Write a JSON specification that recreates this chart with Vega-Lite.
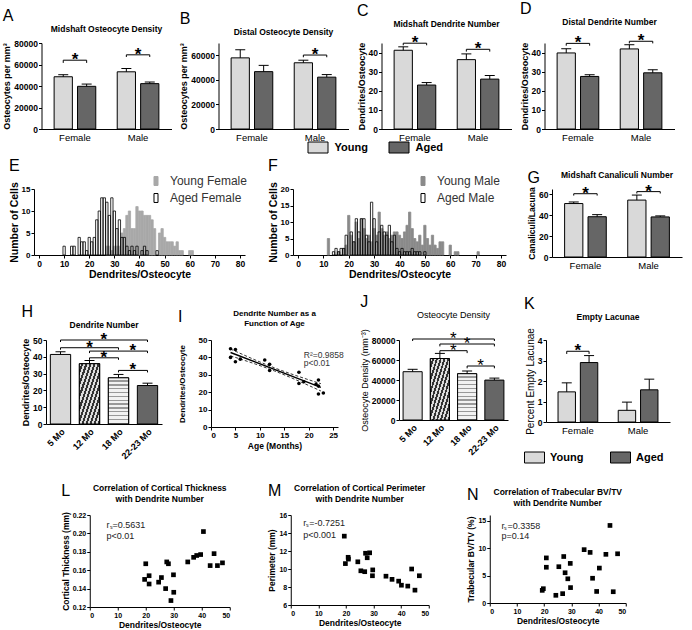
{
"$schema": "https://vega.github.io/schema/vega-lite/v6.json",
"padding": {"left": 2, "right": 2, "top": 0, "bottom": 0},
"background": "white",
"center": true,
"spacing": 3,
"resolve": {"scale": {"fill": "independent", "stroke": "independent", "xOffset": "independent"}},
"config": {
  "font": "Liberation Sans",
  "view": {"stroke": null},
  "axis": {"grid": false, "domainColor": "#000", "tickColor": "#000", "labelColor": "#000", "titleColor": "#000", "labelFontSize": 8.5, "labelFontWeight": "bold", "titleFontSize": 9, "titleFontWeight": "bold", "tickSize": 3, "labelPadding": 1, "titlePadding": 2, "labelFont": "Liberation Sans", "titleFont": "Liberation Sans", "labelOverlap": false},
  "title": {"fontSize": 8.5, "fontWeight": "bold", "color": "#000", "font": "Liberation Sans", "offset": 6},
  "legend": {"labelFont": "Liberation Sans"}
},
"vconcat": [
{
  "hconcat": [
  {
    "title": {"text": "A", "anchor": "start", "frame": "bounds", "fontSize": 16, "fontWeight": "normal", "offset": 1},
    "resolve": {"scale": {"xOffset": "independent"}},
    "vconcat": [{
      "width": 130, "height": 86,
      "title": {"text": "Midshaft Osteocyte Density"},
      "data": {"values": [
        {"sex": "Female", "age": "Young", "mean": 48600, "err": 50500},
        {"sex": "Female", "age": "Aged", "mean": 39700, "err": 41800},
        {"sex": "Male", "age": "Young", "mean": 53200, "err": 56300},
        {"sex": "Male", "age": "Aged", "mean": 42200, "err": 43700}]},
      "encoding": {"x": {"field": "sex", "type": "nominal", "scale": {"domain": ["Female", "Male"], "paddingInner": 0.34, "paddingOuter": 0.2}, "axis": {"title": null, "labelAngle": 0, "labelFontWeight": "normal", "labelFontSize": 9.5, "ticks": false, "labelPadding": 3}}},
      "layer": [
        {"mark": {"type": "bar", "stroke": "#000", "strokeWidth": 1},
         "encoding": {
           "xOffset": {"field": "age", "type": "nominal", "scale": {"domain": ["Young", "Aged"], "paddingInner": 0.22}},
           "y": {"field": "mean", "type": "quantitative", "title": "Osteocytes per mm³", "scale": {"domain": [0, 80000]}, "axis": {"values": [0, 20000, 40000, 60000, 80000], "tickCount": 20, "format": "d"}},
           "fill": {"field": "age", "type": "nominal", "scale": {"domain": ["Young", "Aged"], "range": ["#d9d9d9", "#666666"]}, "legend": {"orient": "none", "legendX": 266, "legendY": 94, "direction": "horizontal", "title": null, "symbolType": "M-1,-0.55L1,-0.55L1,0.55L-1,0.55Z", "symbolSize": 400, "symbolStrokeColor": "#000", "symbolStrokeWidth": 1, "labelFontSize": 11, "labelFontWeight": "bold", "columnPadding": 18, "labelOffset": 6}}}},
        {"mark": {"type": "rule", "color": "#000", "strokeWidth": 1},
         "encoding": {"xOffset": {"field": "age", "type": "nominal", "scale": {"domain": ["Young", "Aged"], "paddingInner": 0.22}}, "y": {"field": "mean", "type": "quantitative", "title": "Osteocytes per mm³"}, "y2": {"field": "err"}}},
        {"mark": {"type": "tick", "color": "#000", "thickness": 1, "size": 10, "opacity": 1},
         "encoding": {"xOffset": {"field": "age", "type": "nominal", "scale": {"domain": ["Young", "Aged"], "paddingInner": 0.22}}, "y": {"field": "err", "type": "quantitative", "title": "Osteocytes per mm³"}}},
        {"data": {"values": [
           {"sex": "Female", "age": "Young", "y": 61500, "seq": 1}, {"sex": "Female", "age": "Young", "y": 64000, "seq": 2},
           {"sex": "Female", "age": "Aged", "y": 64000, "seq": 3}, {"sex": "Female", "age": "Aged", "y": 61500, "seq": 4},
           {"sex": "Male", "age": "Young", "y": 67000, "seq": 1}, {"sex": "Male", "age": "Young", "y": 69000, "seq": 2},
           {"sex": "Male", "age": "Aged", "y": 69000, "seq": 3}, {"sex": "Male", "age": "Aged", "y": 67000, "seq": 4}]},
         "mark": {"type": "line", "color": "#000", "strokeWidth": 1},
         "encoding": {"xOffset": {"field": "age", "type": "nominal", "scale": {"domain": ["Young", "Aged"], "paddingInner": 0.22}}, "y": {"field": "y", "type": "quantitative", "title": "Osteocytes per mm³"}, "order": {"field": "seq", "type": "quantitative"}, "detail": {"field": "sex"}}},
        {"data": {"values": [{"sex": "Female", "y": 64000}, {"sex": "Male", "y": 69000}]},
         "mark": {"type": "text", "text": "*", "fontSize": 17, "fontWeight": "bold", "baseline": "alphabetic", "dy": 5, "color": "#000"},
         "encoding": {"y": {"field": "y", "type": "quantitative", "title": "Osteocytes per mm³"}}}
      ]
    }]
  },
  {
    "title": {"text": "B", "anchor": "start", "frame": "bounds", "fontSize": 16, "fontWeight": "normal", "offset": 1},
    "resolve": {"scale": {"xOffset": "independent"}},
    "vconcat": [{
      "width": 130, "height": 86,
      "title": {"text": "Distal Osteocyte Density"},
      "data": {"values": [
        {"sex": "Female", "age": "Young", "mean": 57900, "err": 64500},
        {"sex": "Female", "age": "Aged", "mean": 46700, "err": 51800},
        {"sex": "Male", "age": "Young", "mean": 53900, "err": 56000},
        {"sex": "Male", "age": "Aged", "mean": 42200, "err": 44300}]},
      "encoding": {"x": {"field": "sex", "type": "nominal", "scale": {"domain": ["Female", "Male"], "paddingInner": 0.34, "paddingOuter": 0.2}, "axis": {"title": null, "labelAngle": 0, "labelFontWeight": "normal", "labelFontSize": 9.5, "ticks": false, "labelPadding": 3}}},
      "layer": [
        {"mark": {"type": "bar", "stroke": "#000", "strokeWidth": 1},
         "encoding": {
           "xOffset": {"field": "age", "type": "nominal", "scale": {"domain": ["Young", "Aged"], "paddingInner": 0.22}},
           "y": {"field": "mean", "type": "quantitative", "title": "Osteocytes per mm³", "scale": {"domain": [0, 70000]}, "axis": {"values": [0, 20000, 40000, 60000], "tickCount": 20, "format": "d"}},
           "fill": {"field": "age", "type": "nominal", "scale": {"domain": ["Young", "Aged"], "range": ["#d9d9d9", "#666666"]}, "legend": {"orient": "none", "legendX": 266, "legendY": 94, "direction": "horizontal", "title": null, "symbolType": "M-1,-0.55L1,-0.55L1,0.55L-1,0.55Z", "symbolSize": 400, "symbolStrokeColor": "#000", "symbolStrokeWidth": 1, "labelFontSize": 11, "labelFontWeight": "bold", "columnPadding": 18, "labelOffset": 6}}}},
        {"mark": {"type": "rule", "color": "#000", "strokeWidth": 1},
         "encoding": {"xOffset": {"field": "age", "type": "nominal", "scale": {"domain": ["Young", "Aged"], "paddingInner": 0.22}}, "y": {"field": "mean", "type": "quantitative", "title": "Osteocytes per mm³"}, "y2": {"field": "err"}}},
        {"mark": {"type": "tick", "color": "#000", "thickness": 1, "size": 10, "opacity": 1},
         "encoding": {"xOffset": {"field": "age", "type": "nominal", "scale": {"domain": ["Young", "Aged"], "paddingInner": 0.22}}, "y": {"field": "err", "type": "quantitative", "title": "Osteocytes per mm³"}}},
        {"data": {"values": [
           {"sex": "Male", "age": "Young", "y": 58400, "seq": 1}, {"sex": "Male", "age": "Young", "y": 60200, "seq": 2},
           {"sex": "Male", "age": "Aged", "y": 60200, "seq": 3}, {"sex": "Male", "age": "Aged", "y": 58400, "seq": 4}]},
         "mark": {"type": "line", "color": "#000", "strokeWidth": 1},
         "encoding": {"xOffset": {"field": "age", "type": "nominal", "scale": {"domain": ["Young", "Aged"], "paddingInner": 0.22}}, "y": {"field": "y", "type": "quantitative", "title": "Osteocytes per mm³"}, "order": {"field": "seq", "type": "quantitative"}, "detail": {"field": "sex"}}},
        {"data": {"values": [{"sex": "Male", "y": 60200}]},
         "mark": {"type": "text", "text": "*", "fontSize": 17, "fontWeight": "bold", "baseline": "alphabetic", "dy": 5, "color": "#000"},
         "encoding": {"y": {"field": "y", "type": "quantitative", "title": "Osteocytes per mm³"}}}
      ]
    }]
  },
  {
    "title": {"text": "C", "anchor": "start", "frame": "bounds", "fontSize": 16, "fontWeight": "normal", "offset": 1},
    "resolve": {"scale": {"xOffset": "independent"}},
    "vconcat": [{
      "width": 130, "height": 86,
      "title": {"text": "Midshaft Dendrite Number"},
      "data": {"values": [
        {"sex": "Female", "age": "Young", "mean": 41.2, "err": 43},
        {"sex": "Female", "age": "Aged", "mean": 23, "err": 24.3},
        {"sex": "Male", "age": "Young", "mean": 36.3, "err": 39.3},
        {"sex": "Male", "age": "Aged", "mean": 26.1, "err": 28}]},
      "encoding": {"x": {"field": "sex", "type": "nominal", "scale": {"domain": ["Female", "Male"], "paddingInner": 0.34, "paddingOuter": 0.2}, "axis": {"title": null, "labelAngle": 0, "labelFontWeight": "normal", "labelFontSize": 9.5, "ticks": false, "labelPadding": 3}}},
      "layer": [
        {"mark": {"type": "bar", "stroke": "#000", "strokeWidth": 1},
         "encoding": {
           "xOffset": {"field": "age", "type": "nominal", "scale": {"domain": ["Young", "Aged"], "paddingInner": 0.22}},
           "y": {"field": "mean", "type": "quantitative", "title": "Dendrites/Osteocyte", "scale": {"domain": [0, 45]}, "axis": {"values": [0, 10, 20, 30, 40], "tickCount": 20, "format": "d"}},
           "fill": {"field": "age", "type": "nominal", "scale": {"domain": ["Young", "Aged"], "range": ["#d9d9d9", "#666666"]}, "legend": {"orient": "none", "legendX": 266, "legendY": 94, "direction": "horizontal", "title": null, "symbolType": "M-1,-0.55L1,-0.55L1,0.55L-1,0.55Z", "symbolSize": 400, "symbolStrokeColor": "#000", "symbolStrokeWidth": 1, "labelFontSize": 11, "labelFontWeight": "bold", "columnPadding": 18, "labelOffset": 6}}}},
        {"mark": {"type": "rule", "color": "#000", "strokeWidth": 1},
         "encoding": {"xOffset": {"field": "age", "type": "nominal", "scale": {"domain": ["Young", "Aged"], "paddingInner": 0.22}}, "y": {"field": "mean", "type": "quantitative", "title": "Dendrites/Osteocyte"}, "y2": {"field": "err"}}},
        {"mark": {"type": "tick", "color": "#000", "thickness": 1, "size": 10, "opacity": 1},
         "encoding": {"xOffset": {"field": "age", "type": "nominal", "scale": {"domain": ["Young", "Aged"], "paddingInner": 0.22}}, "y": {"field": "err", "type": "quantitative", "title": "Dendrites/Osteocyte"}}},
        {"data": {"values": [
           {"sex": "Female", "age": "Young", "y": 43.8, "seq": 1}, {"sex": "Female", "age": "Young", "y": 44.9, "seq": 2},
           {"sex": "Female", "age": "Aged", "y": 44.9, "seq": 3}, {"sex": "Female", "age": "Aged", "y": 43.8, "seq": 4},
           {"sex": "Male", "age": "Young", "y": 40.5, "seq": 1}, {"sex": "Male", "age": "Young", "y": 41.7, "seq": 2},
           {"sex": "Male", "age": "Aged", "y": 41.7, "seq": 3}, {"sex": "Male", "age": "Aged", "y": 40.5, "seq": 4}]},
         "mark": {"type": "line", "color": "#000", "strokeWidth": 1},
         "encoding": {"xOffset": {"field": "age", "type": "nominal", "scale": {"domain": ["Young", "Aged"], "paddingInner": 0.22}}, "y": {"field": "y", "type": "quantitative", "title": "Dendrites/Osteocyte"}, "order": {"field": "seq", "type": "quantitative"}, "detail": {"field": "sex"}}},
        {"data": {"values": [{"sex": "Female", "y": 44.9}, {"sex": "Male", "y": 41.7}]},
         "mark": {"type": "text", "text": "*", "fontSize": 17, "fontWeight": "bold", "baseline": "alphabetic", "dy": 5, "color": "#000"},
         "encoding": {"y": {"field": "y", "type": "quantitative", "title": "Dendrites/Osteocyte"}}}
      ]
    }]
  },
  {
    "title": {"text": "D", "anchor": "start", "frame": "bounds", "fontSize": 16, "fontWeight": "normal", "offset": 1},
    "resolve": {"scale": {"xOffset": "independent"}},
    "vconcat": [{
      "width": 130, "height": 86,
      "title": {"text": "Distal Dendrite Number"},
      "data": {"values": [
        {"sex": "Female", "age": "Young", "mean": 39.8, "err": 42},
        {"sex": "Female", "age": "Aged", "mean": 27.5, "err": 28.4},
        {"sex": "Male", "age": "Young", "mean": 41.9, "err": 44.1},
        {"sex": "Male", "age": "Aged", "mean": 29.4, "err": 31}]},
      "encoding": {"x": {"field": "sex", "type": "nominal", "scale": {"domain": ["Female", "Male"], "paddingInner": 0.34, "paddingOuter": 0.2}, "axis": {"title": null, "labelAngle": 0, "labelFontWeight": "normal", "labelFontSize": 9.5, "ticks": false, "labelPadding": 3}}},
      "layer": [
        {"mark": {"type": "bar", "stroke": "#000", "strokeWidth": 1},
         "encoding": {
           "xOffset": {"field": "age", "type": "nominal", "scale": {"domain": ["Young", "Aged"], "paddingInner": 0.22}},
           "y": {"field": "mean", "type": "quantitative", "title": "Dendrites/Osteocyte", "scale": {"domain": [0, 45]}, "axis": {"values": [0, 10, 20, 30, 40], "tickCount": 20, "format": "d"}},
           "fill": {"field": "age", "type": "nominal", "scale": {"domain": ["Young", "Aged"], "range": ["#d9d9d9", "#666666"]}, "legend": {"orient": "none", "legendX": 266, "legendY": 94, "direction": "horizontal", "title": null, "symbolType": "M-1,-0.55L1,-0.55L1,0.55L-1,0.55Z", "symbolSize": 400, "symbolStrokeColor": "#000", "symbolStrokeWidth": 1, "labelFontSize": 11, "labelFontWeight": "bold", "columnPadding": 18, "labelOffset": 6}}}},
        {"mark": {"type": "rule", "color": "#000", "strokeWidth": 1},
         "encoding": {"xOffset": {"field": "age", "type": "nominal", "scale": {"domain": ["Young", "Aged"], "paddingInner": 0.22}}, "y": {"field": "mean", "type": "quantitative", "title": "Dendrites/Osteocyte"}, "y2": {"field": "err"}}},
        {"mark": {"type": "tick", "color": "#000", "thickness": 1, "size": 10, "opacity": 1},
         "encoding": {"xOffset": {"field": "age", "type": "nominal", "scale": {"domain": ["Young", "Aged"], "paddingInner": 0.22}}, "y": {"field": "err", "type": "quantitative", "title": "Dendrites/Osteocyte"}}},
        {"data": {"values": [
           {"sex": "Female", "age": "Young", "y": 43.6, "seq": 1}, {"sex": "Female", "age": "Young", "y": 44.8, "seq": 2},
           {"sex": "Female", "age": "Aged", "y": 44.8, "seq": 3}, {"sex": "Female", "age": "Aged", "y": 43.6, "seq": 4},
           {"sex": "Male", "age": "Young", "y": 44.8, "seq": 1}, {"sex": "Male", "age": "Young", "y": 45.9, "seq": 2},
           {"sex": "Male", "age": "Aged", "y": 45.9, "seq": 3}, {"sex": "Male", "age": "Aged", "y": 44.8, "seq": 4}]},
         "mark": {"type": "line", "color": "#000", "strokeWidth": 1},
         "encoding": {"xOffset": {"field": "age", "type": "nominal", "scale": {"domain": ["Young", "Aged"], "paddingInner": 0.22}}, "y": {"field": "y", "type": "quantitative", "title": "Dendrites/Osteocyte"}, "order": {"field": "seq", "type": "quantitative"}, "detail": {"field": "sex"}}},
        {"data": {"values": [{"sex": "Female", "y": 44.8}, {"sex": "Male", "y": 45.9}]},
         "mark": {"type": "text", "text": "*", "fontSize": 17, "fontWeight": "bold", "baseline": "alphabetic", "dy": 5, "color": "#000"},
         "encoding": {"y": {"field": "y", "type": "quantitative", "title": "Dendrites/Osteocyte"}}}
      ]
    }]
  }
  ],
  "spacing": 8,
  "resolve": {"scale": {"xOffset": "independent"}}
},
{
  "hconcat": [
  {
    "title": {"text": "E", "anchor": "start", "frame": "bounds", "fontSize": 16, "fontWeight": "normal", "offset": 1},
    "resolve": {"scale": {"fill": "independent", "stroke": "independent", "xOffset": "independent"}},
    "vconcat": [{
      "width": 211, "height": 66,
      "data": {"values": [
        {"grp": "Young Female", "d": 27, "n": 2}, {"grp": "Young Female", "d": 28, "n": 2}, {"grp": "Young Female", "d": 29, "n": 1}, {"grp": "Young Female", "d": 30, "n": 2},
        {"grp": "Young Female", "d": 31, "n": 2}, {"grp": "Young Female", "d": 32, "n": 2}, {"grp": "Young Female", "d": 33, "n": 5}, {"grp": "Young Female", "d": 34, "n": 6},
        {"grp": "Young Female", "d": 35, "n": 9}, {"grp": "Young Female", "d": 36, "n": 10}, {"grp": "Young Female", "d": 37, "n": 6}, {"grp": "Young Female", "d": 38, "n": 6},
        {"grp": "Young Female", "d": 39, "n": 11}, {"grp": "Young Female", "d": 40, "n": 10}, {"grp": "Young Female", "d": 41, "n": 10}, {"grp": "Young Female", "d": 42, "n": 9},
        {"grp": "Young Female", "d": 43, "n": 9}, {"grp": "Young Female", "d": 44, "n": 9}, {"grp": "Young Female", "d": 45, "n": 8}, {"grp": "Young Female", "d": 46, "n": 6},
        {"grp": "Young Female", "d": 48, "n": 5}, {"grp": "Young Female", "d": 49, "n": 6}, {"grp": "Young Female", "d": 50, "n": 4}, {"grp": "Young Female", "d": 51, "n": 3},
        {"grp": "Young Female", "d": 52, "n": 3}, {"grp": "Young Female", "d": 53, "n": 3}, {"grp": "Young Female", "d": 54, "n": 2}, {"grp": "Young Female", "d": 55, "n": 3},
        {"grp": "Young Female", "d": 56, "n": 1}, {"grp": "Young Female", "d": 57, "n": 1}, {"grp": "Young Female", "d": 60, "n": 1}, {"grp": "Young Female", "d": 61, "n": 1},
        {"grp": "Aged Female", "d": 10, "n": 2}, {"grp": "Aged Female", "d": 13, "n": 2}, {"grp": "Aged Female", "d": 14, "n": 2}, {"grp": "Aged Female", "d": 16, "n": 4},
        {"grp": "Aged Female", "d": 17, "n": 3}, {"grp": "Aged Female", "d": 18, "n": 3}, {"grp": "Aged Female", "d": 19, "n": 1}, {"grp": "Aged Female", "d": 20, "n": 4},
        {"grp": "Aged Female", "d": 21, "n": 3}, {"grp": "Aged Female", "d": 22, "n": 4}, {"grp": "Aged Female", "d": 23, "n": 8}, {"grp": "Aged Female", "d": 24, "n": 10},
        {"grp": "Aged Female", "d": 25, "n": 13}, {"grp": "Aged Female", "d": 26, "n": 13}, {"grp": "Aged Female", "d": 27, "n": 12}, {"grp": "Aged Female", "d": 28, "n": 9},
        {"grp": "Aged Female", "d": 29, "n": 13}, {"grp": "Aged Female", "d": 30, "n": 10}, {"grp": "Aged Female", "d": 31, "n": 6}, {"grp": "Aged Female", "d": 32, "n": 8},
        {"grp": "Aged Female", "d": 33, "n": 4}, {"grp": "Aged Female", "d": 34, "n": 4}, {"grp": "Aged Female", "d": 35, "n": 2}, {"grp": "Aged Female", "d": 36, "n": 1},
        {"grp": "Aged Female", "d": 37, "n": 2}, {"grp": "Aged Female", "d": 38, "n": 1}, {"grp": "Aged Female", "d": 39, "n": 2}, {"grp": "Aged Female", "d": 41, "n": 1},
        {"grp": "Aged Female", "d": 42, "n": 2}, {"grp": "Aged Female", "d": 43, "n": 1}, {"grp": "Aged Female", "d": 47, "n": 1}]},
      "mark": {"type": "bar", "width": 2.3, "strokeWidth": 0.8},
      "encoding": {
        "x": {"field": "d", "type": "quantitative", "scale": {"domain": [0, 80]}, "axis": {"values": [0, 10, 20, 30, 40, 50, 60, 70, 80], "tickCount": 20, "format": "d", "title": "Dendrites/Osteocyte", "titleFontSize": 10.5, "labelFontSize": 8.5}},
        "y": {"field": "n", "type": "quantitative", "stack": null, "scale": {"domain": [0, 15]}, "axis": {"values": [0, 5, 10, 15], "tickCount": 20, "format": "d", "title": "Number of Cells", "titleFontSize": 10.5, "labelFontSize": 8}},
        "fill": {"field": "grp", "type": "nominal", "scale": {"domain": ["Young Female", "Aged Female"], "range": ["#a8a8a8", "rgba(255,255,255,0.15)"]}, "legend": {"orient": "none", "legendX": 116, "legendY": -14, "title": null, "symbolType": "M-0.45,-1L0.45,-1L0.45,1L-0.45,1Z", "symbolSize": 80, "symbolStrokeWidth": 1, "labelFontSize": 12, "labelFontWeight": "normal", "labelColor": "#333", "rowPadding": 3, "labelOffset": 8}},
        "stroke": {"field": "grp", "type": "nominal", "scale": {"domain": ["Young Female", "Aged Female"], "range": ["#a8a8a8", "#000000"]}, "legend": {"orient": "none", "legendX": 116, "legendY": -14, "title": null, "symbolType": "M-0.45,-1L0.45,-1L0.45,1L-0.45,1Z", "symbolSize": 80, "symbolStrokeWidth": 1, "labelFontSize": 12, "labelFontWeight": "normal", "labelColor": "#333", "rowPadding": 3, "labelOffset": 8}}
      }
    }]
  },
  {
    "title": {"text": "F", "anchor": "start", "frame": "bounds", "fontSize": 16, "fontWeight": "normal", "offset": 1},
    "resolve": {"scale": {"fill": "independent", "stroke": "independent", "xOffset": "independent"}},
    "vconcat": [{
      "width": 213, "height": 66,
      "data": {"values": [
        {"grp": "Young Male", "d": 12, "n": 5}, {"grp": "Young Male", "d": 16, "n": 1}, {"grp": "Young Male", "d": 18, "n": 2}, {"grp": "Young Male", "d": 19, "n": 3},
        {"grp": "Young Male", "d": 20, "n": 12}, {"grp": "Young Male", "d": 21, "n": 6}, {"grp": "Young Male", "d": 22, "n": 4}, {"grp": "Young Male", "d": 23, "n": 10},
        {"grp": "Young Male", "d": 24, "n": 5}, {"grp": "Young Male", "d": 25, "n": 11}, {"grp": "Young Male", "d": 26, "n": 8}, {"grp": "Young Male", "d": 27, "n": 5},
        {"grp": "Young Male", "d": 28, "n": 6}, {"grp": "Young Male", "d": 29, "n": 4}, {"grp": "Young Male", "d": 30, "n": 8}, {"grp": "Young Male", "d": 31, "n": 6},
        {"grp": "Young Male", "d": 32, "n": 13}, {"grp": "Young Male", "d": 33, "n": 8}, {"grp": "Young Male", "d": 34, "n": 6}, {"grp": "Young Male", "d": 35, "n": 7},
        {"grp": "Young Male", "d": 36, "n": 5}, {"grp": "Young Male", "d": 37, "n": 6}, {"grp": "Young Male", "d": 38, "n": 7}, {"grp": "Young Male", "d": 39, "n": 7},
        {"grp": "Young Male", "d": 40, "n": 6}, {"grp": "Young Male", "d": 41, "n": 5}, {"grp": "Young Male", "d": 42, "n": 7}, {"grp": "Young Male", "d": 43, "n": 9},
        {"grp": "Young Male", "d": 44, "n": 13}, {"grp": "Young Male", "d": 45, "n": 8}, {"grp": "Young Male", "d": 46, "n": 5}, {"grp": "Young Male", "d": 47, "n": 4},
        {"grp": "Young Male", "d": 48, "n": 6}, {"grp": "Young Male", "d": 49, "n": 3}, {"grp": "Young Male", "d": 50, "n": 9}, {"grp": "Young Male", "d": 51, "n": 5},
        {"grp": "Young Male", "d": 52, "n": 3}, {"grp": "Young Male", "d": 53, "n": 6}, {"grp": "Young Male", "d": 54, "n": 3}, {"grp": "Young Male", "d": 55, "n": 2},
        {"grp": "Young Male", "d": 56, "n": 4}, {"grp": "Young Male", "d": 57, "n": 4}, {"grp": "Young Male", "d": 60, "n": 3}, {"grp": "Young Male", "d": 62, "n": 1},
        {"grp": "Young Male", "d": 63, "n": 1}, {"grp": "Young Male", "d": 71, "n": 1},
        {"grp": "Aged Male", "d": 14, "n": 1}, {"grp": "Aged Male", "d": 15, "n": 2}, {"grp": "Aged Male", "d": 16, "n": 1}, {"grp": "Aged Male", "d": 17, "n": 2},
        {"grp": "Aged Male", "d": 18, "n": 2}, {"grp": "Aged Male", "d": 19, "n": 6}, {"grp": "Aged Male", "d": 21, "n": 7}, {"grp": "Aged Male", "d": 22, "n": 4},
        {"grp": "Aged Male", "d": 23, "n": 11}, {"grp": "Aged Male", "d": 24, "n": 7}, {"grp": "Aged Male", "d": 25, "n": 11}, {"grp": "Aged Male", "d": 26, "n": 11},
        {"grp": "Aged Male", "d": 27, "n": 6}, {"grp": "Aged Male", "d": 28, "n": 4}, {"grp": "Aged Male", "d": 29, "n": 16}, {"grp": "Aged Male", "d": 30, "n": 11},
        {"grp": "Aged Male", "d": 31, "n": 4}, {"grp": "Aged Male", "d": 32, "n": 7}, {"grp": "Aged Male", "d": 33, "n": 9}, {"grp": "Aged Male", "d": 34, "n": 7},
        {"grp": "Aged Male", "d": 35, "n": 6}, {"grp": "Aged Male", "d": 36, "n": 9}, {"grp": "Aged Male", "d": 37, "n": 4}, {"grp": "Aged Male", "d": 38, "n": 6},
        {"grp": "Aged Male", "d": 39, "n": 2}, {"grp": "Aged Male", "d": 40, "n": 1}, {"grp": "Aged Male", "d": 41, "n": 2}, {"grp": "Aged Male", "d": 42, "n": 1},
        {"grp": "Aged Male", "d": 43, "n": 1}, {"grp": "Aged Male", "d": 44, "n": 1}, {"grp": "Aged Male", "d": 45, "n": 2}, {"grp": "Aged Male", "d": 46, "n": 1},
        {"grp": "Aged Male", "d": 47, "n": 1}, {"grp": "Aged Male", "d": 48, "n": 1}, {"grp": "Aged Male", "d": 50, "n": 1}]},
      "mark": {"type": "bar", "width": 2.3, "strokeWidth": 0.8},
      "encoding": {
        "x": {"field": "d", "type": "quantitative", "scale": {"domain": [0, 80]}, "axis": {"values": [0, 10, 20, 30, 40, 50, 60, 70, 80], "tickCount": 20, "format": "d", "title": "Dendrites/Osteocyte", "titleFontSize": 10.5, "labelFontSize": 8.5}},
        "y": {"field": "n", "type": "quantitative", "stack": null, "scale": {"domain": [0, 20]}, "axis": {"values": [0, 5, 10, 15, 20], "tickCount": 20, "format": "d", "title": "Number of Cells", "titleFontSize": 10.5, "labelFontSize": 8}},
        "fill": {"field": "grp", "type": "nominal", "scale": {"domain": ["Young Male", "Aged Male"], "range": ["#8a8a8a", "rgba(255,255,255,0.15)"]}, "legend": {"orient": "none", "legendX": 124, "legendY": -14, "title": null, "symbolType": "M-0.45,-1L0.45,-1L0.45,1L-0.45,1Z", "symbolSize": 80, "symbolStrokeWidth": 1, "labelFontSize": 12, "labelFontWeight": "normal", "labelColor": "#333", "rowPadding": 3, "labelOffset": 8}},
        "stroke": {"field": "grp", "type": "nominal", "scale": {"domain": ["Young Male", "Aged Male"], "range": ["#8a8a8a", "#000000"]}, "legend": {"orient": "none", "legendX": 124, "legendY": -14, "title": null, "symbolType": "M-0.45,-1L0.45,-1L0.45,1L-0.45,1Z", "symbolSize": 80, "symbolStrokeWidth": 1, "labelFontSize": 12, "labelFontWeight": "normal", "labelColor": "#333", "rowPadding": 3, "labelOffset": 8}}
      }
    }]
  },
  {
    "title": {"text": "G", "anchor": "start", "frame": "bounds", "fontSize": 16, "fontWeight": "normal", "offset": 1, "dy": 16},
    "resolve": {"scale": {"fill": "independent", "stroke": "independent", "xOffset": "independent"}},
    "vconcat": [{
      "width": 130, "height": 68,
      "title": {"text": "Midshaft Canaliculi Number", "offset": 3},
      "data": {"values": [
        {"sex": "Female", "age": "Young", "mean": 51.1, "err": 52.6},
        {"sex": "Female", "age": "Aged", "mean": 38.5, "err": 40.5},
        {"sex": "Male", "age": "Young", "mean": 54.4, "err": 59.2},
        {"sex": "Male", "age": "Aged", "mean": 38.3, "err": 39.3}]},
      "encoding": {"x": {"field": "sex", "type": "nominal", "scale": {"domain": ["Female", "Male"], "paddingInner": 0.34, "paddingOuter": 0.2}, "axis": {"title": null, "labelAngle": 0, "labelFontWeight": "normal", "labelFontSize": 9.5, "ticks": false, "labelPadding": 3}}},
      "layer": [
        {"mark": {"type": "bar", "stroke": "#000", "strokeWidth": 1},
         "encoding": {
           "xOffset": {"field": "age", "type": "nominal", "scale": {"domain": ["Young", "Aged"], "paddingInner": 0.22}},
           "y": {"field": "mean", "type": "quantitative", "title": "Canaliculi/Lacuna", "scale": {"domain": [0, 62]}, "axis": {"values": [0, 20, 40, 60], "tickCount": 20, "format": "d", "titleFontSize": 8.5}},
           "fill": {"field": "age", "type": "nominal", "scale": {"domain": ["Young", "Aged"], "range": ["#d9d9d9", "#666666"]}, "legend": null}}},
        {"mark": {"type": "rule", "color": "#000", "strokeWidth": 1},
         "encoding": {"xOffset": {"field": "age", "type": "nominal", "scale": {"domain": ["Young", "Aged"], "paddingInner": 0.22}}, "y": {"field": "mean", "type": "quantitative", "title": "Canaliculi/Lacuna"}, "y2": {"field": "err"}}},
        {"mark": {"type": "tick", "color": "#000", "thickness": 1, "size": 10, "opacity": 1},
         "encoding": {"xOffset": {"field": "age", "type": "nominal", "scale": {"domain": ["Young", "Aged"], "paddingInner": 0.22}}, "y": {"field": "err", "type": "quantitative", "title": "Canaliculi/Lacuna"}}},
        {"data": {"values": [
           {"sex": "Female", "age": "Young", "y": 58.7, "seq": 1}, {"sex": "Female", "age": "Young", "y": 60.5, "seq": 2},
           {"sex": "Female", "age": "Aged", "y": 60.5, "seq": 3}, {"sex": "Female", "age": "Aged", "y": 58.7, "seq": 4},
           {"sex": "Male", "age": "Young", "y": 60.7, "seq": 1}, {"sex": "Male", "age": "Young", "y": 62.5, "seq": 2},
           {"sex": "Male", "age": "Aged", "y": 62.5, "seq": 3}, {"sex": "Male", "age": "Aged", "y": 60.7, "seq": 4}]},
         "mark": {"type": "line", "color": "#000", "strokeWidth": 1},
         "encoding": {"xOffset": {"field": "age", "type": "nominal", "scale": {"domain": ["Young", "Aged"], "paddingInner": 0.22}}, "y": {"field": "y", "type": "quantitative", "title": "Canaliculi/Lacuna"}, "order": {"field": "seq", "type": "quantitative"}, "detail": {"field": "sex"}}},
        {"data": {"values": [{"sex": "Female", "y": 60.5}, {"sex": "Male", "y": 62.5}]},
         "mark": {"type": "text", "text": "*", "fontSize": 17, "fontWeight": "bold", "baseline": "alphabetic", "dy": 5, "color": "#000"},
         "encoding": {"y": {"field": "y", "type": "quantitative", "title": "Canaliculi/Lacuna"}}}
      ]
    }]
  }
  ],
  "spacing": 21,
  "resolve": {"scale": {"fill": "independent", "stroke": "independent", "xOffset": "independent"}}
},
{
  "title": {"text": " ", "fontSize": 10, "offset": 0},
  "hconcat": [
  {
    "title": {"text": "H", "anchor": "start", "frame": "bounds", "fontSize": 16, "fontWeight": "normal", "offset": 1},
    "resolve": {"scale": {"fill": "independent", "stroke": "independent", "xOffset": "independent"}},
    "vconcat": [{
      "width": 116, "height": 84,
      "title": {"text": "Dendrite Number", "offset": 2},
      "data": {"values": [
        {"age": "5 Mo", "mean": 41.4, "err": 43},
        {"age": "12 Mo", "mean": 35.9, "err": 37.8},
        {"age": "18 Mo", "mean": 27.5, "err": 29.5},
        {"age": "22-23 Mo", "mean": 22.9, "err": 24.3}]},
      "encoding": {"x": {"field": "age", "type": "nominal", "scale": {"domain": ["5 Mo", "12 Mo", "18 Mo", "22-23 Mo"], "paddingInner": 0.3, "paddingOuter": 0.15}, "axis": {"title": null, "labelAngle": -45, "ticks": false, "labelFontSize": 9, "labelPadding": 3}}},
      "layer": [
        {"mark": {"type": "bar", "stroke": "#000", "strokeWidth": 1},
         "encoding": {"y": {"field": "mean", "type": "quantitative", "title": "Dendrites/Osteocyte", "scale": {"domain": [0, 50]}, "axis": {"values": [0, 10, 20, 30, 40, 50], "tickCount": 20, "format": "d"}},
           "fill": {"field": "age", "type": "nominal", "scale": {"domain": ["5 Mo", "12 Mo", "18 Mo", "22-23 Mo"], "range": ["#d9d9d9", "#7a7a7a", "#eeeeee", "#666666"]}, "legend": null}}},
        {"transform": [{"filter": "datum.age === '12 Mo'"}],
         "mark": {"type": "bar", "stroke": "#000", "strokeWidth": 1, "fill": {"gradient": "linear", "x1": 0, "y1": 0, "x2": 1, "y2": 1, "stops": [
           {"offset": 0, "color": "#dddddd"}, {"offset": 0.05, "color": "#dddddd"}, {"offset": 0.05, "color": "#333333"}, {"offset": 0.1, "color": "#333333"},
           {"offset": 0.1, "color": "#dddddd"}, {"offset": 0.15, "color": "#dddddd"}, {"offset": 0.15, "color": "#333333"}, {"offset": 0.2, "color": "#333333"},
           {"offset": 0.2, "color": "#dddddd"}, {"offset": 0.25, "color": "#dddddd"}, {"offset": 0.25, "color": "#333333"}, {"offset": 0.3, "color": "#333333"},
           {"offset": 0.3, "color": "#dddddd"}, {"offset": 0.35, "color": "#dddddd"}, {"offset": 0.35, "color": "#333333"}, {"offset": 0.4, "color": "#333333"},
           {"offset": 0.4, "color": "#dddddd"}, {"offset": 0.45, "color": "#dddddd"}, {"offset": 0.45, "color": "#333333"}, {"offset": 0.5, "color": "#333333"},
           {"offset": 0.5, "color": "#dddddd"}, {"offset": 0.55, "color": "#dddddd"}, {"offset": 0.55, "color": "#333333"}, {"offset": 0.6, "color": "#333333"},
           {"offset": 0.6, "color": "#dddddd"}, {"offset": 0.65, "color": "#dddddd"}, {"offset": 0.65, "color": "#333333"}, {"offset": 0.7, "color": "#333333"},
           {"offset": 0.7, "color": "#dddddd"}, {"offset": 0.75, "color": "#dddddd"}, {"offset": 0.75, "color": "#333333"}, {"offset": 0.8, "color": "#333333"},
           {"offset": 0.8, "color": "#dddddd"}, {"offset": 0.85, "color": "#dddddd"}, {"offset": 0.85, "color": "#333333"}, {"offset": 0.9, "color": "#333333"},
           {"offset": 0.9, "color": "#dddddd"}, {"offset": 0.95, "color": "#dddddd"}, {"offset": 0.95, "color": "#333333"}, {"offset": 1, "color": "#333333"}]}},
         "encoding": {"y": {"field": "mean", "type": "quantitative", "title": "Dendrites/Osteocyte"}}},
        {"transform": [{"filter": "datum.age === '18 Mo'"}],
         "mark": {"type": "bar", "stroke": "#000", "strokeWidth": 1, "fill": {"gradient": "linear", "x1": 0, "y1": 0, "x2": 0, "y2": 1, "stops": [
           {"offset": 0, "color": "#f2f2f2"}, {"offset": 0.054, "color": "#f2f2f2"}, {"offset": 0.054, "color": "#999999"}, {"offset": 0.083, "color": "#999999"},
           {"offset": 0.083, "color": "#f2f2f2"}, {"offset": 0.138, "color": "#f2f2f2"}, {"offset": 0.138, "color": "#999999"}, {"offset": 0.167, "color": "#999999"},
           {"offset": 0.167, "color": "#f2f2f2"}, {"offset": 0.221, "color": "#f2f2f2"}, {"offset": 0.221, "color": "#999999"}, {"offset": 0.25, "color": "#999999"},
           {"offset": 0.25, "color": "#f2f2f2"}, {"offset": 0.304, "color": "#f2f2f2"}, {"offset": 0.304, "color": "#999999"}, {"offset": 0.333, "color": "#999999"},
           {"offset": 0.333, "color": "#f2f2f2"}, {"offset": 0.388, "color": "#f2f2f2"}, {"offset": 0.388, "color": "#999999"}, {"offset": 0.417, "color": "#999999"},
           {"offset": 0.417, "color": "#f2f2f2"}, {"offset": 0.471, "color": "#f2f2f2"}, {"offset": 0.471, "color": "#999999"}, {"offset": 0.5, "color": "#999999"},
           {"offset": 0.5, "color": "#f2f2f2"}, {"offset": 0.554, "color": "#f2f2f2"}, {"offset": 0.554, "color": "#999999"}, {"offset": 0.583, "color": "#999999"},
           {"offset": 0.583, "color": "#f2f2f2"}, {"offset": 0.638, "color": "#f2f2f2"}, {"offset": 0.638, "color": "#999999"}, {"offset": 0.667, "color": "#999999"},
           {"offset": 0.667, "color": "#f2f2f2"}, {"offset": 0.721, "color": "#f2f2f2"}, {"offset": 0.721, "color": "#999999"}, {"offset": 0.75, "color": "#999999"},
           {"offset": 0.75, "color": "#f2f2f2"}, {"offset": 0.804, "color": "#f2f2f2"}, {"offset": 0.804, "color": "#999999"}, {"offset": 0.833, "color": "#999999"},
           {"offset": 0.833, "color": "#f2f2f2"}, {"offset": 0.888, "color": "#f2f2f2"}, {"offset": 0.888, "color": "#999999"}, {"offset": 0.917, "color": "#999999"},
           {"offset": 0.917, "color": "#f2f2f2"}, {"offset": 0.971, "color": "#f2f2f2"}, {"offset": 0.971, "color": "#999999"}, {"offset": 1, "color": "#999999"}]}},
         "encoding": {"y": {"field": "mean", "type": "quantitative", "title": "Dendrites/Osteocyte"}}},
        {"mark": {"type": "rule", "color": "#000", "strokeWidth": 1},
         "encoding": {"y": {"field": "mean", "type": "quantitative", "title": "Dendrites/Osteocyte"}, "y2": {"field": "err"}}},
        {"mark": {"type": "tick", "color": "#000", "thickness": 1, "size": 10, "opacity": 1},
         "encoding": {"y": {"field": "err", "type": "quantitative", "title": "Dendrites/Osteocyte"}}},
        {"data": {"values": [
           {"b": 1, "age": "5 Mo", "y": 48.8, "seq": 1}, {"b": 1, "age": "5 Mo", "y": 50, "seq": 2}, {"b": 1, "age": "22-23 Mo", "y": 50, "seq": 3}, {"b": 1, "age": "22-23 Mo", "y": 48.8, "seq": 4},
           {"b": 2, "age": "5 Mo", "y": 44.2, "seq": 1}, {"b": 2, "age": "5 Mo", "y": 45.4, "seq": 2}, {"b": 2, "age": "18 Mo", "y": 45.4, "seq": 3}, {"b": 2, "age": "18 Mo", "y": 44.2, "seq": 4},
           {"b": 3, "age": "12 Mo", "y": 42.2, "seq": 1}, {"b": 3, "age": "12 Mo", "y": 43.4, "seq": 2}, {"b": 3, "age": "22-23 Mo", "y": 43.4, "seq": 3}, {"b": 3, "age": "22-23 Mo", "y": 42.2, "seq": 4},
           {"b": 4, "age": "12 Mo", "y": 38.2, "seq": 1}, {"b": 4, "age": "12 Mo", "y": 39.4, "seq": 2}, {"b": 4, "age": "18 Mo", "y": 39.4, "seq": 3}, {"b": 4, "age": "18 Mo", "y": 38.2, "seq": 4},
           {"b": 5, "age": "18 Mo", "y": 30.7, "seq": 1}, {"b": 5, "age": "18 Mo", "y": 31.9, "seq": 2}, {"b": 5, "age": "22-23 Mo", "y": 31.9, "seq": 3}, {"b": 5, "age": "22-23 Mo", "y": 30.7, "seq": 4}]},
         "mark": {"type": "line", "color": "#000", "strokeWidth": 1},
         "encoding": {"y": {"field": "y", "type": "quantitative", "title": "Dendrites/Osteocyte"}, "order": {"field": "seq", "type": "quantitative"}, "detail": {"field": "b"}}},
        {"data": {"values": [{"at": "12 Mo", "y": 45.4}]},
         "mark": {"type": "text", "text": "*", "fontSize": 17, "fontWeight": "bold", "baseline": "alphabetic", "dy": 5, "color": "#000"},
         "encoding": {"x": {"field": "at", "type": "nominal", "title": null}, "y": {"field": "y", "type": "quantitative", "title": "Dendrites/Osteocyte"}}},
        {"data": {"values": [{"at": "12 Mo", "y": 50}, {"at": "18 Mo", "y": 43.4}, {"at": "12 Mo", "y": 39.4}, {"at": "18 Mo", "y": 31.9}]},
         "mark": {"type": "text", "text": "*", "fontSize": 17, "fontWeight": "bold", "baseline": "alphabetic", "dy": 5, "color": "#000"},
         "encoding": {"x": {"field": "at", "type": "nominal", "title": null, "bandPosition": 1.21}, "y": {"field": "y", "type": "quantitative", "title": "Dendrites/Osteocyte"}}}
      ]
    }]
  },
  {
    "title": {"text": "I", "anchor": "start", "frame": "bounds", "fontSize": 16, "fontWeight": "normal", "offset": 1, "dy": 16},
    "resolve": {"scale": {"fill": "independent", "stroke": "independent", "xOffset": "independent"}},
    "vconcat": [{
      "width": 127, "height": 87,
      "title": {"text": ["Dendrite Number as a", "Function of Age"], "fontSize": 8, "offset": 8},
      "layer": [
        {"data": {"values": [
          {"age": 4, "d": 45}, {"age": 5, "d": 44.5}, {"age": 4, "d": 40}, {"age": 5, "d": 37.5}, {"age": 6, "d": 39},
          {"age": 11, "d": 38.5}, {"age": 12, "d": 36}, {"age": 12, "d": 32.5}, {"age": 18, "d": 31.5}, {"age": 18, "d": 25},
          {"age": 19, "d": 26}, {"age": 21.5, "d": 24.5}, {"age": 22, "d": 27}, {"age": 22, "d": 23.5}, {"age": 22, "d": 19}, {"age": 23, "d": 19.5}]},
         "mark": {"type": "circle", "size": 13, "color": "#000", "opacity": 1},
         "encoding": {"x": {"field": "age", "type": "quantitative", "title": "Age (Months)", "scale": {"domain": [0, 25]}, "axis": {"values": [0, 5, 10, 15, 20, 25], "tickCount": 20, "format": "d", "labelFontSize": 8, "titleFontSize": 8.5}},
           "y": {"field": "d", "type": "quantitative", "title": "Dendrites/Osteocyte", "scale": {"domain": [0, 50]}, "axis": {"values": [0, 10, 20, 30, 40, 50], "tickCount": 20, "format": "d", "labelFontSize": 8, "titleFontSize": 8, "titlePadding": 12}}}},
        {"data": {"values": [{"s": "fit", "age": 4, "d": 42.8}, {"s": "fit", "age": 22.5, "d": 22.8}]},
         "mark": {"type": "line", "color": "#000", "strokeWidth": 1.4},
         "encoding": {"x": {"field": "age", "type": "quantitative", "title": "Age (Months)"}, "y": {"field": "d", "type": "quantitative", "title": "Dendrites/Osteocyte"}}},
        {"data": {"values": [
          {"s": "hi", "age": 4, "d": 44.8}, {"s": "hi", "age": 13, "d": 34.0}, {"s": "hi", "age": 22.5, "d": 24.9},
          {"s": "lo", "age": 4, "d": 40.9}, {"s": "lo", "age": 13, "d": 32.2}, {"s": "lo", "age": 22.5, "d": 20.7}]},
         "mark": {"type": "line", "color": "#000", "strokeWidth": 0.8, "strokeDash": [3, 2], "interpolate": "monotone"},
         "encoding": {"x": {"field": "age", "type": "quantitative", "title": "Age (Months)"}, "y": {"field": "d", "type": "quantitative", "title": "Dendrites/Osteocyte"}, "detail": {"field": "s"}}},
        {"data": {"values": [{"age": 19, "d": 41.5, "t": "R²=0.9858"}, {"age": 19, "d": 36.5, "t": "p<0.01"}]},
         "mark": {"type": "text", "align": "left", "fontSize": 8.5, "color": "#333"},
         "encoding": {"x": {"field": "age", "type": "quantitative", "title": "Age (Months)"}, "y": {"field": "d", "type": "quantitative", "title": "Dendrites/Osteocyte"}, "text": {"field": "t"}}}
      ]
    }]
  },
  {
    "title": {"text": "J", "anchor": "start", "frame": "bounds", "fontSize": 16, "fontWeight": "normal", "offset": 1},
    "resolve": {"scale": {"fill": "independent", "stroke": "independent", "xOffset": "independent"}},
    "vconcat": [{
      "width": 109, "height": 80,
      "title": {"text": "Osteocyte Density", "offset": 9, "fontWeight": "normal", "fontSize": 9},
      "data": {"values": [
        {"age": "5 Mo", "mean": 48300, "err": 50700},
        {"age": "12 Mo", "mean": 61500, "err": 66600},
        {"age": "18 Mo", "mean": 46300, "err": 49000},
        {"age": "22-23 Mo", "mean": 39900, "err": 41900}]},
      "encoding": {"x": {"field": "age", "type": "nominal", "scale": {"domain": ["5 Mo", "12 Mo", "18 Mo", "22-23 Mo"], "paddingInner": 0.3, "paddingOuter": 0.15}, "axis": {"title": null, "labelAngle": -45, "ticks": false, "labelFontSize": 9, "labelPadding": 3}}},
      "layer": [
        {"mark": {"type": "bar", "stroke": "#000", "strokeWidth": 1},
         "encoding": {"y": {"field": "mean", "type": "quantitative", "title": "Osteocyte Density (mm⁻³)", "scale": {"domain": [0, 80000]}, "axis": {"values": [0, 20000, 40000, 60000, 80000], "tickCount": 20, "format": "d", "titleFontWeight": "normal"}},
           "fill": {"field": "age", "type": "nominal", "scale": {"domain": ["5 Mo", "12 Mo", "18 Mo", "22-23 Mo"], "range": ["#d9d9d9", "#7a7a7a", "#eeeeee", "#666666"]}, "legend": null}}},
        {"transform": [{"filter": "datum.age === '12 Mo'"}],
         "mark": {"type": "bar", "stroke": "#000", "strokeWidth": 1, "fill": {"gradient": "linear", "x1": 0, "y1": 0, "x2": 1, "y2": 1, "stops": [
           {"offset": 0, "color": "#dddddd"}, {"offset": 0.05, "color": "#dddddd"}, {"offset": 0.05, "color": "#333333"}, {"offset": 0.1, "color": "#333333"},
           {"offset": 0.1, "color": "#dddddd"}, {"offset": 0.15, "color": "#dddddd"}, {"offset": 0.15, "color": "#333333"}, {"offset": 0.2, "color": "#333333"},
           {"offset": 0.2, "color": "#dddddd"}, {"offset": 0.25, "color": "#dddddd"}, {"offset": 0.25, "color": "#333333"}, {"offset": 0.3, "color": "#333333"},
           {"offset": 0.3, "color": "#dddddd"}, {"offset": 0.35, "color": "#dddddd"}, {"offset": 0.35, "color": "#333333"}, {"offset": 0.4, "color": "#333333"},
           {"offset": 0.4, "color": "#dddddd"}, {"offset": 0.45, "color": "#dddddd"}, {"offset": 0.45, "color": "#333333"}, {"offset": 0.5, "color": "#333333"},
           {"offset": 0.5, "color": "#dddddd"}, {"offset": 0.55, "color": "#dddddd"}, {"offset": 0.55, "color": "#333333"}, {"offset": 0.6, "color": "#333333"},
           {"offset": 0.6, "color": "#dddddd"}, {"offset": 0.65, "color": "#dddddd"}, {"offset": 0.65, "color": "#333333"}, {"offset": 0.7, "color": "#333333"},
           {"offset": 0.7, "color": "#dddddd"}, {"offset": 0.75, "color": "#dddddd"}, {"offset": 0.75, "color": "#333333"}, {"offset": 0.8, "color": "#333333"},
           {"offset": 0.8, "color": "#dddddd"}, {"offset": 0.85, "color": "#dddddd"}, {"offset": 0.85, "color": "#333333"}, {"offset": 0.9, "color": "#333333"},
           {"offset": 0.9, "color": "#dddddd"}, {"offset": 0.95, "color": "#dddddd"}, {"offset": 0.95, "color": "#333333"}, {"offset": 1, "color": "#333333"}]}},
         "encoding": {"y": {"field": "mean", "type": "quantitative", "title": "Osteocyte Density (mm⁻³)"}}},
        {"transform": [{"filter": "datum.age === '18 Mo'"}],
         "mark": {"type": "bar", "stroke": "#000", "strokeWidth": 1, "fill": {"gradient": "linear", "x1": 0, "y1": 0, "x2": 0, "y2": 1, "stops": [
           {"offset": 0, "color": "#f2f2f2"}, {"offset": 0.054, "color": "#f2f2f2"}, {"offset": 0.054, "color": "#999999"}, {"offset": 0.083, "color": "#999999"},
           {"offset": 0.083, "color": "#f2f2f2"}, {"offset": 0.138, "color": "#f2f2f2"}, {"offset": 0.138, "color": "#999999"}, {"offset": 0.167, "color": "#999999"},
           {"offset": 0.167, "color": "#f2f2f2"}, {"offset": 0.221, "color": "#f2f2f2"}, {"offset": 0.221, "color": "#999999"}, {"offset": 0.25, "color": "#999999"},
           {"offset": 0.25, "color": "#f2f2f2"}, {"offset": 0.304, "color": "#f2f2f2"}, {"offset": 0.304, "color": "#999999"}, {"offset": 0.333, "color": "#999999"},
           {"offset": 0.333, "color": "#f2f2f2"}, {"offset": 0.388, "color": "#f2f2f2"}, {"offset": 0.388, "color": "#999999"}, {"offset": 0.417, "color": "#999999"},
           {"offset": 0.417, "color": "#f2f2f2"}, {"offset": 0.471, "color": "#f2f2f2"}, {"offset": 0.471, "color": "#999999"}, {"offset": 0.5, "color": "#999999"},
           {"offset": 0.5, "color": "#f2f2f2"}, {"offset": 0.554, "color": "#f2f2f2"}, {"offset": 0.554, "color": "#999999"}, {"offset": 0.583, "color": "#999999"},
           {"offset": 0.583, "color": "#f2f2f2"}, {"offset": 0.638, "color": "#f2f2f2"}, {"offset": 0.638, "color": "#999999"}, {"offset": 0.667, "color": "#999999"},
           {"offset": 0.667, "color": "#f2f2f2"}, {"offset": 0.721, "color": "#f2f2f2"}, {"offset": 0.721, "color": "#999999"}, {"offset": 0.75, "color": "#999999"},
           {"offset": 0.75, "color": "#f2f2f2"}, {"offset": 0.804, "color": "#f2f2f2"}, {"offset": 0.804, "color": "#999999"}, {"offset": 0.833, "color": "#999999"},
           {"offset": 0.833, "color": "#f2f2f2"}, {"offset": 0.888, "color": "#f2f2f2"}, {"offset": 0.888, "color": "#999999"}, {"offset": 0.917, "color": "#999999"},
           {"offset": 0.917, "color": "#f2f2f2"}, {"offset": 0.971, "color": "#f2f2f2"}, {"offset": 0.971, "color": "#999999"}, {"offset": 1, "color": "#999999"}]}},
         "encoding": {"y": {"field": "mean", "type": "quantitative", "title": "Osteocyte Density (mm⁻³)"}}},
        {"mark": {"type": "rule", "color": "#000", "strokeWidth": 1},
         "encoding": {"y": {"field": "mean", "type": "quantitative", "title": "Osteocyte Density (mm⁻³)"}, "y2": {"field": "err"}}},
        {"mark": {"type": "tick", "color": "#000", "thickness": 1, "size": 10, "opacity": 1},
         "encoding": {"y": {"field": "err", "type": "quantitative", "title": "Osteocyte Density (mm⁻³)"}}},
        {"data": {"values": [
           {"b": 1, "age": "5 Mo", "y": 79000, "seq": 1}, {"b": 1, "age": "5 Mo", "y": 81000, "seq": 2}, {"b": 1, "age": "22-23 Mo", "y": 81000, "seq": 3}, {"b": 1, "age": "22-23 Mo", "y": 79000, "seq": 4},
           {"b": 2, "age": "12 Mo", "y": 73600, "seq": 1}, {"b": 2, "age": "12 Mo", "y": 76000, "seq": 2}, {"b": 2, "age": "22-23 Mo", "y": 76000, "seq": 3}, {"b": 2, "age": "22-23 Mo", "y": 73600, "seq": 4},
           {"b": 3, "age": "12 Mo", "y": 66900, "seq": 1}, {"b": 3, "age": "12 Mo", "y": 69300, "seq": 2}, {"b": 3, "age": "18 Mo", "y": 69300, "seq": 3}, {"b": 3, "age": "18 Mo", "y": 66900, "seq": 4},
           {"b": 4, "age": "18 Mo", "y": 51700, "seq": 1}, {"b": 4, "age": "18 Mo", "y": 54000, "seq": 2}, {"b": 4, "age": "22-23 Mo", "y": 54000, "seq": 3}, {"b": 4, "age": "22-23 Mo", "y": 51700, "seq": 4}]},
         "mark": {"type": "line", "color": "#000", "strokeWidth": 1},
         "encoding": {"y": {"field": "y", "type": "quantitative", "title": "Osteocyte Density (mm⁻³)"}, "order": {"field": "seq", "type": "quantitative"}, "detail": {"field": "b"}}},
        {"data": {"values": [{"at": "18 Mo", "y": 76000}]},
         "mark": {"type": "text", "text": "*", "fontSize": 17, "fontWeight": "normal", "baseline": "alphabetic", "dy": 5, "color": "#000"},
         "encoding": {"x": {"field": "at", "type": "nominal", "title": null}, "y": {"field": "y", "type": "quantitative", "title": "Osteocyte Density (mm⁻³)"}}},
        {"data": {"values": [{"at": "12 Mo", "y": 81000}, {"at": "12 Mo", "y": 69300}, {"at": "18 Mo", "y": 54000}]},
         "mark": {"type": "text", "text": "*", "fontSize": 17, "fontWeight": "normal", "baseline": "alphabetic", "dy": 5, "color": "#000"},
         "encoding": {"x": {"field": "at", "type": "nominal", "title": null, "bandPosition": 1.21}, "y": {"field": "y", "type": "quantitative", "title": "Osteocyte Density (mm⁻³)"}}}
      ]
    }]
  },
  {
    "title": {"text": "K", "anchor": "start", "frame": "bounds", "fontSize": 16, "fontWeight": "normal", "offset": 1},
    "resolve": {"scale": {"fill": "independent", "stroke": "independent", "xOffset": "independent"}},
    "vconcat": [{
      "width": 124, "height": 82,
      "title": {"text": "Empty Lacunae"},
      "data": {"values": [
        {"sex": "Female", "age": "Young", "mean": 1.47, "err": 1.91},
        {"sex": "Female", "age": "Aged", "mean": 2.9, "err": 3.24},
        {"sex": "Male", "age": "Young", "mean": 0.57, "err": 0.97},
        {"sex": "Male", "age": "Aged", "mean": 1.57, "err": 2.09}]},
      "encoding": {"x": {"field": "sex", "type": "nominal", "scale": {"domain": ["Female", "Male"], "paddingInner": 0.34, "paddingOuter": 0.2}, "axis": {"title": null, "labelAngle": 0, "labelFontWeight": "normal", "labelFontSize": 9.5, "ticks": false, "labelPadding": 3}}},
      "layer": [
        {"mark": {"type": "bar", "stroke": "#000", "strokeWidth": 1},
         "encoding": {
           "xOffset": {"field": "age", "type": "nominal", "scale": {"domain": ["Young", "Aged"], "paddingInner": 0.22}},
           "y": {"field": "mean", "type": "quantitative", "title": "Percent Empty Lacunae", "scale": {"domain": [0, 4]}, "axis": {"values": [0, 1, 2, 3, 4], "tickCount": 20, "format": "d", "titleFontWeight": "normal", "titleFontSize": 10}},
           "fill": {"field": "age", "type": "nominal", "scale": {"domain": ["Young", "Aged"], "range": ["#d9d9d9", "#666666"]}, "legend": {"orient": "none", "legendX": -22, "legendY": 107, "direction": "horizontal", "title": null, "symbolType": "M-1,-0.55L1,-0.55L1,0.55L-1,0.55Z", "symbolSize": 400, "symbolStrokeColor": "#000", "symbolStrokeWidth": 1, "labelFontSize": 11, "labelFontWeight": "bold", "columnPadding": 24, "labelOffset": 5}}}},
        {"mark": {"type": "rule", "color": "#000", "strokeWidth": 1},
         "encoding": {"xOffset": {"field": "age", "type": "nominal", "scale": {"domain": ["Young", "Aged"], "paddingInner": 0.22}}, "y": {"field": "mean", "type": "quantitative", "title": "Percent Empty Lacunae"}, "y2": {"field": "err"}}},
        {"mark": {"type": "tick", "color": "#000", "thickness": 1, "size": 10, "opacity": 1},
         "encoding": {"xOffset": {"field": "age", "type": "nominal", "scale": {"domain": ["Young", "Aged"], "paddingInner": 0.22}}, "y": {"field": "err", "type": "quantitative", "title": "Percent Empty Lacunae"}}},
        {"data": {"values": [
           {"sex": "Female", "age": "Young", "y": 3.32, "seq": 1}, {"sex": "Female", "age": "Young", "y": 3.45, "seq": 2},
           {"sex": "Female", "age": "Aged", "y": 3.45, "seq": 3}, {"sex": "Female", "age": "Aged", "y": 3.32, "seq": 4}]},
         "mark": {"type": "line", "color": "#000", "strokeWidth": 1},
         "encoding": {"xOffset": {"field": "age", "type": "nominal", "scale": {"domain": ["Young", "Aged"], "paddingInner": 0.22}}, "y": {"field": "y", "type": "quantitative", "title": "Percent Empty Lacunae"}, "order": {"field": "seq", "type": "quantitative"}, "detail": {"field": "sex"}}},
        {"data": {"values": [{"sex": "Female", "y": 3.45}]},
         "mark": {"type": "text", "text": "*", "fontSize": 17, "fontWeight": "bold", "baseline": "alphabetic", "dy": 5, "color": "#000"},
         "encoding": {"y": {"field": "y", "type": "quantitative", "title": "Percent Empty Lacunae"}}}
      ]
    }]
  }
  ],
  "spacing": 16,
  "resolve": {"scale": {"fill": "independent", "stroke": "independent", "xOffset": "independent"}}
},
{
  "title": {"text": " ", "fontSize": 15, "offset": 0},
  "hconcat": [
  {
    "title": {"text": "L", "anchor": "start", "frame": "bounds", "fontSize": 16, "fontWeight": "normal", "offset": 1, "dy": 16},
    "resolve": {"scale": {"fill": "independent", "stroke": "independent", "xOffset": "independent"}},
    "vconcat": [{
      "width": 140, "height": 92,
      "title": {"text": ["Correlation of Cortical Thickness", "with Dendrite Number"], "fontSize": 8.5, "offset": 8},
      "layer": [
        {"data": {"values": [
          {"d": 19.6, "v": 0.150}, {"d": 20, "v": 0.167}, {"d": 21.2, "v": 0.154}, {"d": 21.2, "v": 0.145}, {"d": 24.6, "v": 0.147},
          {"d": 25.6, "v": 0.152}, {"d": 27.1, "v": 0.140}, {"d": 27.5, "v": 0.169}, {"d": 28.1, "v": 0.167}, {"d": 29, "v": 0.127},
          {"d": 29.9, "v": 0.155}, {"d": 30, "v": 0.136}, {"d": 35, "v": 0.169}, {"d": 37.1, "v": 0.174}, {"d": 38.2, "v": 0.176},
          {"d": 39.6, "v": 0.177}, {"d": 40.6, "v": 0.202}, {"d": 43, "v": 0.165}, {"d": 44.4, "v": 0.178}, {"d": 45.6, "v": 0.165}, {"d": 47.4, "v": 0.168}]},
         "mark": {"type": "square", "size": 22, "color": "#000", "opacity": 1, "filled": true},
         "encoding": {"x": {"field": "d", "type": "quantitative", "title": "Dendrites/Osteocyte", "scale": {"domain": [0, 50]}, "axis": {"values": [0, 10, 20, 30, 40, 50], "tickCount": 20, "format": "d", "labelFontSize": 7, "titleFontSize": 8.5}},
           "y": {"field": "v", "type": "quantitative", "title": "Cortical Thickness (mm)", "scale": {"domain": [0.12, 0.22]}, "axis": {"values": [0.12, 0.14, 0.16, 0.18, 0.2, 0.22], "tickCount": 20, "format": ".2f", "labelFontSize": 7, "titleFontSize": 8.5}}}},
        {"data": {"values": [{"d": 6, "v": 0.209, "t": "rₛ=0.5631"}, {"d": 6, "v": 0.197, "t": "p<0.01"}]},
         "mark": {"type": "text", "align": "left", "fontSize": 9, "color": "#222"},
         "encoding": {"x": {"field": "d", "type": "quantitative", "title": "Dendrites/Osteocyte"}, "y": {"field": "v", "type": "quantitative", "title": "Cortical Thickness (mm)"}, "text": {"field": "t"}}}
      ]
    }]
  },
  {
    "title": {"text": "M", "anchor": "start", "frame": "bounds", "fontSize": 16, "fontWeight": "normal", "offset": 1, "dy": 16},
    "resolve": {"scale": {"fill": "independent", "stroke": "independent", "xOffset": "independent"}},
    "vconcat": [{
      "width": 138, "height": 90,
      "title": {"text": ["Correlation of Cortical Perimeter", "with Dendrite Number"], "fontSize": 8.5, "offset": 8},
      "layer": [
        {"data": {"values": [
          {"d": 19.4, "v": 13.65}, {"d": 19.8, "v": 10.6}, {"d": 20.8, "v": 11.3}, {"d": 20.9, "v": 11.1}, {"d": 24.3, "v": 10.8},
          {"d": 25.4, "v": 9.8}, {"d": 26.8, "v": 9.7}, {"d": 27.1, "v": 11.75}, {"d": 27.7, "v": 11.25}, {"d": 28.6, "v": 11.8},
          {"d": 29.7, "v": 9.9}, {"d": 29.6, "v": 9.25}, {"d": 34.5, "v": 9.2}, {"d": 36.7, "v": 8.85}, {"d": 39.1, "v": 8.65},
          {"d": 40.1, "v": 8.2}, {"d": 42.4, "v": 8.1}, {"d": 43.8, "v": 10.0}, {"d": 45, "v": 7.65}, {"d": 46.6, "v": 9.25}]},
         "mark": {"type": "square", "size": 22, "color": "#000", "opacity": 1, "filled": true},
         "encoding": {"x": {"field": "d", "type": "quantitative", "title": "Dendrites/Osteocyte", "scale": {"domain": [0, 50]}, "axis": {"values": [0, 10, 20, 30, 40, 50], "tickCount": 20, "format": "d", "labelFontSize": 7, "titleFontSize": 8.5}},
           "y": {"field": "v", "type": "quantitative", "title": "Perimeter (mm)", "scale": {"domain": [6, 16]}, "axis": {"values": [6, 8, 10, 12, 14, 16], "tickCount": 20, "format": "d", "labelFontSize": 7, "titleFontSize": 8.5}}}},
        {"data": {"values": [{"d": 4.5, "v": 15.1, "t": "rₛ=-0.7251"}, {"d": 4.5, "v": 13.8, "t": "p<0.001"}]},
         "mark": {"type": "text", "align": "left", "fontSize": 9, "color": "#222"},
         "encoding": {"x": {"field": "d", "type": "quantitative", "title": "Dendrites/Osteocyte"}, "y": {"field": "v", "type": "quantitative", "title": "Perimeter (mm)"}, "text": {"field": "t"}}}
      ]
    }]
  },
  {
    "title": {"text": "N", "anchor": "start", "frame": "bounds", "fontSize": 16, "fontWeight": "normal", "offset": 1, "dy": 16},
    "resolve": {"scale": {"fill": "independent", "stroke": "independent", "xOffset": "independent"}},
    "vconcat": [{
      "width": 136, "height": 88,
      "title": {"text": ["Correlation of Trabecular BV/TV", "with Dendrite Number"], "fontSize": 8.5, "offset": 8},
      "layer": [
        {"data": {"values": [
          {"d": 19.3, "v": 2.3}, {"d": 19.7, "v": 2.6}, {"d": 20.8, "v": 8.2}, {"d": 20.8, "v": 6.5}, {"d": 24.3, "v": 1.4},
          {"d": 25.4, "v": 6.6}, {"d": 26.8, "v": 1.7}, {"d": 27.2, "v": 8.45}, {"d": 27.7, "v": 5.5}, {"d": 28.7, "v": 4.4},
          {"d": 29.6, "v": 7.2}, {"d": 29.7, "v": 2.8}, {"d": 34.7, "v": 9.7}, {"d": 36.9, "v": 9.2}, {"d": 37.8, "v": 4.5},
          {"d": 39.3, "v": 2.1}, {"d": 40.3, "v": 6.35}, {"d": 42.7, "v": 8.85}, {"d": 44.2, "v": 14.1}, {"d": 45.4, "v": 2.05}, {"d": 47, "v": 8.95}]},
         "mark": {"type": "square", "size": 22, "color": "#000", "opacity": 1, "filled": true},
         "encoding": {"x": {"field": "d", "type": "quantitative", "title": "Dendrites/Osteocyte", "scale": {"domain": [0, 50]}, "axis": {"values": [0, 10, 20, 30, 40, 50], "tickCount": 20, "format": "d", "labelFontSize": 7, "titleFontSize": 8.5}},
           "y": {"field": "v", "type": "quantitative", "title": "Trabecular BV/TV (%)", "scale": {"domain": [0, 15]}, "axis": {"values": [0, 5, 10, 15], "tickCount": 20, "format": "d", "labelFontSize": 7, "titleFontSize": 8.5}}}},
        {"data": {"values": [{"d": 4.3, "v": 14.0, "t": "rₛ=0.3358"}, {"d": 4.3, "v": 12.1, "t": "p=0.14"}]},
         "mark": {"type": "text", "align": "left", "fontSize": 9, "color": "#222"},
         "encoding": {"x": {"field": "d", "type": "quantitative", "title": "Dendrites/Osteocyte"}, "y": {"field": "v", "type": "quantitative", "title": "Trabecular BV/TV (%)"}, "text": {"field": "t"}}}
      ]
    }]
  }
  ],
  "spacing": 37,
  "resolve": {"scale": {"fill": "independent", "stroke": "independent", "xOffset": "independent"}}
}
]
}
